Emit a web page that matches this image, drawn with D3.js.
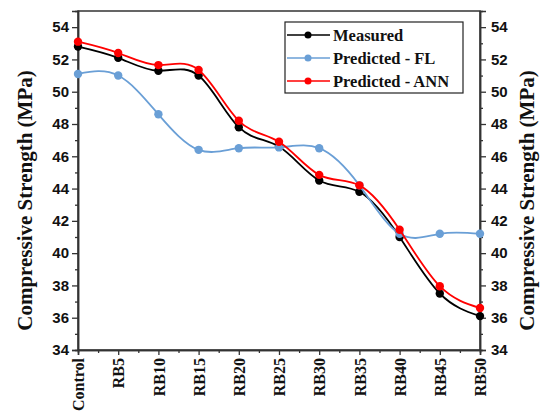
<!DOCTYPE html>
<html><head><meta charset="utf-8">
<script src="https://cdn.jsdelivr.net/npm/d3@7"></script>
<style>body{margin:0;background:#fff}</style>
</head><body>
<svg id="c" width="540" height="416"></svg>
<script>
const categories = ["Control","RB5","RB10","RB15","RB20","RB25","RB30","RB35","RB40","RB45","RB50"];
const measured   = [52.8,52.1,51.3,51.0,47.8,46.6,44.5,43.8,41.0,37.5,36.1];
const predFL     = [51.1,51.0,48.6,46.4,46.5,46.55,46.5,44.2,41.2,41.2,41.2];
const predANN    = [53.1,52.4,51.65,51.35,48.2,46.9,44.85,44.2,41.45,37.95,36.6];
const seriesNames = ["Measured","Predicted - FL","Predicted - ANN"];
const seriesColors = ["#000000","#6a9fd6","#ff0000"];
const yTicks = [34,36,38,40,42,44,46,48,50,52,54];

const svg = d3.select("#c");
const L = 78, R = 480, T = 11, B = 350;
const x = d3.scalePoint().domain(categories).range([L, R]);
const y = d3.scaleLinear().domain([34, 55]).range([B, T]);

const tickFont = "'Liberation Sans', Arial, sans-serif";
const serif = "'Liberation Serif', 'Times New Roman', serif";

// frame
svg.append("rect").attr("x", L).attr("y", T).attr("width", R - L).attr("height", B - T)
  .attr("fill", "none").attr("stroke", "#333").attr("stroke-width", 1.5);

// y axes
const gl = svg.append("g").attr("transform", `translate(${L},0)`)
  .call(d3.axisLeft(y).tickValues(yTicks).tickSize(6).tickPadding(3).tickFormat(d3.format("d")));
const gr = svg.append("g").attr("transform", `translate(${R},0)`)
  .call(d3.axisRight(y).tickValues(yTicks).tickSize(6).tickPadding(5).tickFormat(d3.format("d")));
const minorY = d3.range(35, 55, 2);
svg.append("g").attr("transform", `translate(${L},0)`).call(d3.axisLeft(y).tickValues(minorY).tickSize(3).tickFormat(""));
svg.append("g").attr("transform", `translate(${R},0)`).call(d3.axisRight(y).tickValues(minorY).tickSize(3).tickFormat(""));

// bottom axis
const gb = svg.append("g").attr("transform", `translate(0,${B})`)
  .call(d3.axisBottom(x).tickSize(5).tickPadding(6));
const xm = d3.scaleLinear().domain([0, categories.length - 1]).range([L, R]);
const minorX = d3.range(0.5, categories.length - 1, 1);
svg.append("g").attr("transform", `translate(0,${B})`)
  .call(d3.axisBottom(xm).tickValues(minorX).tickSize(3).tickFormat(""));

svg.selectAll(".domain").attr("stroke", "#333").attr("stroke-width", 1.5);
svg.selectAll(".tick line").attr("stroke", "#333").attr("stroke-width", 1.3);

[gl, gr].forEach(g => g.selectAll("text").attr("font-family", tickFont).attr("font-weight", "bold")
  .attr("font-size", 15).attr("fill", "#111"));
gb.selectAll("text").attr("font-family", serif).attr("font-weight", "bold").attr("font-size", 16)
  .attr("fill", "#111").attr("transform", "rotate(-90)").attr("text-anchor", "end")
  .attr("x", -8).attr("y", 0).attr("dy", "0.35em");

// titles
[32, 534].forEach(tx => {
  svg.append("text").attr("transform", `translate(${tx},${(T + B) / 2 + 20}) rotate(-90)`)
    .attr("text-anchor", "middle").attr("font-family", serif).attr("font-weight", "bold")
    .attr("font-size", 21).attr("fill", "#111").text("Compressive Strength (MPa)");
});

// series
const data = [measured, predFL, predANN];
const line = d3.line().x((d, i) => x(categories[i])).y(d => y(d)).curve(d3.curveNatural);
data.forEach((vals, k) => {
  svg.append("path").datum(vals).attr("d", line).attr("fill", "none")
    .attr("stroke", seriesColors[k]).attr("stroke-width", 1.8);
  svg.append("g").selectAll("circle").data(vals).join("circle")
    .attr("cx", (d, i) => x(categories[i])).attr("cy", d => y(d)).attr("r", 4.2)
    .attr("fill", seriesColors[k]);
});

// legend
const lg = svg.append("g");
lg.append("rect").attr("x", 285).attr("y", 22).attr("width", 178).attr("height", 71)
  .attr("fill", "#fff").attr("stroke", "#222").attr("stroke-width", 1.2);
const rowsY = [35, 58, 81];
seriesNames.forEach((n, k) => {
  lg.append("line").attr("x1", 287).attr("x2", 330).attr("y1", rowsY[k]).attr("y2", rowsY[k])
    .attr("stroke", seriesColors[k]).attr("stroke-width", 1.6);
  lg.append("circle").attr("cx", 308).attr("cy", rowsY[k]).attr("r", 3.5).attr("fill", seriesColors[k]);
  lg.append("text").attr("x", 333).attr("y", rowsY[k]).attr("dy", "0.35em")
    .attr("font-family", serif).attr("font-weight", "bold").attr("font-size", 16.5)
    .attr("fill", "#111").text(n);
});
</script>
</body></html>
